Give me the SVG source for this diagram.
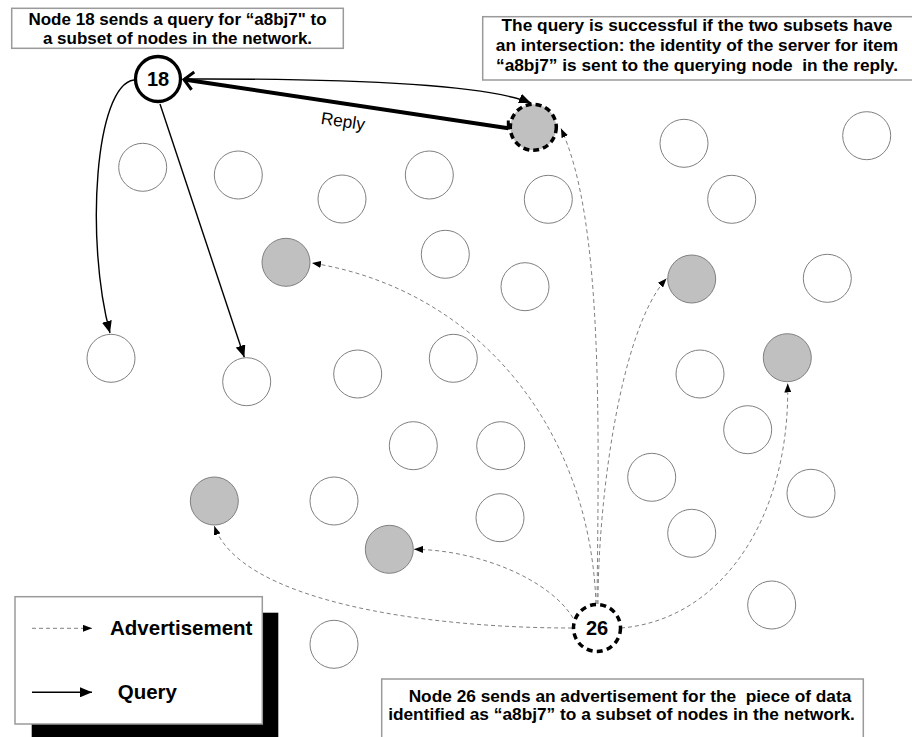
<svg xmlns="http://www.w3.org/2000/svg" width="912" height="737" viewBox="0 0 912 737">
  <defs>
    <style>
      .n{fill:#fff;stroke:#808080;stroke-width:1}
      .g{fill:#c0c0c0;stroke:#808080;stroke-width:1}
      .key{fill:#c0c0c0;stroke:#000;stroke-width:3.5;stroke-dasharray:6 4}
      .box{fill:#fff;stroke:#9a9a9a;stroke-width:1.5}
      .t{font-family:"Liberation Sans",Arial,Helvetica,sans-serif;font-weight:bold;font-size:17.3px;fill:#000;text-anchor:middle;white-space:pre}
      .lbl{font-family:"Liberation Sans",Arial,Helvetica,sans-serif;font-weight:bold;font-size:20px;fill:#000;text-anchor:middle}
      .leg{font-family:"Liberation Sans",Arial,Helvetica,sans-serif;font-weight:bold;font-size:20.5px;fill:#000}
      .q{fill:none;stroke:#000;stroke-width:1.4}
      .ad{fill:none;stroke:#808080;stroke-width:1;stroke-dasharray:4 3}
    </style>
    <marker id="qa" markerUnits="userSpaceOnUse" viewBox="0 0 12 10" markerWidth="12" markerHeight="10" refX="12" refY="5" orient="auto">
      <path d="M0,0 L12,5 L0,10 Z" fill="#000"/>
    </marker>
    <marker id="aa" markerUnits="userSpaceOnUse" viewBox="0 0 9 7" markerWidth="9" markerHeight="7" refX="9" refY="3.5" orient="auto">
      <path d="M0,0 L9,3.5 L0,7 Z" fill="#000"/>
    </marker>
    <marker id="ra" markerUnits="userSpaceOnUse" viewBox="-13 -12 16 24" markerWidth="16" markerHeight="24" refX="0" refY="0" orient="auto" overflow="visible">
      <path d="M-9,-9 L0,0 L-9,9" fill="none" stroke="#000" stroke-width="3"/>
    </marker>
  </defs>

  <rect width="912" height="737" fill="#fff"/>

  <!-- explanatory boxes -->
  <g id="note-query">
    <rect class="box" x="11.7" y="8.3" width="331.6" height="40"/>
    <text class="t" x="177.5" y="24.8" style="font-size:17px">Node 18 sends a query for “a8bj7" to</text>
    <text class="t" x="177.5" y="44.2" style="font-size:17px">a subset of nodes in the network.</text>
  </g>
  <g id="note-reply">
    <rect class="box" x="482.7" y="16.7" width="440" height="63.3"/>
    <text class="t" x="697" y="31">The query is successful if the two subsets have</text>
    <text class="t" x="697" y="51">an intersection: the identity of the server for item</text>
    <text class="t" x="697" y="71" xml:space="preserve">“a8bj7” is sent to the querying node  in the reply.</text>
  </g>
  <g id="note-advert">
    <rect class="box" x="381.7" y="679" width="481.6" height="70"/>
    <text class="t" x="630" y="702" xml:space="preserve">Node 26 sends an advertisement for the  piece of data</text>
    <text class="t" x="621.5" y="720">identified as “a8bj7” to a subset of nodes in the network.</text>
  </g>

  <!-- legend with drop shadow -->
  <g id="legend">
    <rect x="31.7" y="612.7" width="246.6" height="130" fill="#000"/>
    <rect class="box" x="15" y="596.7" width="247.3" height="127.3"/>
    <path class="ad" d="M32,628.3 L92,628.3" marker-end="url(#aa)"/>
    <path class="q" d="M32,692.3 L92,692.3" marker-end="url(#qa)"/>
    <text class="leg" x="110" y="635">Advertisement</text>
    <text class="leg" x="117.7" y="699">Query</text>
  </g>

  <!-- connectors -->
  <g id="connectors">
    <!-- queries from node 18 -->
    <path class="q" d="M134,80 C95,85 85,240 110,333"  marker-end="url(#qa)"/>
    <path class="q" d="M160,104 L244.3,357.3" marker-end="url(#qa)"/>
    <path class="q" d="M184,79 Q470,78 531,103" marker-end="url(#qa)"/>
    <!-- reply back to node 18 -->
    <path d="M508.3,128.3 L184,79.5" fill="none" stroke="#000" stroke-width="4" marker-end="url(#ra)"/>
    <path d="M508.3,129.5 L508.3,120.5" fill="none" stroke="#000" stroke-width="3"/>
    <text font-family="'Liberation Sans',Arial,Helvetica,sans-serif" font-size="17.3" text-anchor="middle" transform="translate(343,121) rotate(8.5)" x="0" y="6">Reply</text>
    <!-- advertisements from node 26 -->
    <path class="ad" d="M597,604 C599,420 603,220 561,128.5" marker-end="url(#aa)"/>
    <path class="ad" d="M598,604 C598,500 620,330 666.5,278.5" marker-end="url(#aa)"/>
    <path class="ad" d="M621,628 C720,620 790,520 787.7,383.5" marker-end="url(#aa)"/>
    <path class="ad" d="M596,604 C590,430 480,290 312,263" marker-end="url(#aa)"/>
    <path class="ad" d="M573,618 C550,580 480,550 414,549.3" marker-end="url(#aa)"/>
    <path class="ad" d="M572,628 C420,628 240,600 214.3,526" marker-end="url(#aa)"/>
  </g>

  <!-- network nodes -->
  <g id="nodes">
    <g id="n-a"><circle class="n" cx="142.7" cy="167.3" r="24"/></g>
    <g id="n-b"><circle class="n" cx="238.3" cy="175" r="24"/></g>
    <g id="n-c"><circle class="n" cx="342" cy="199" r="24"/></g>
    <g id="n-d"><circle class="n" cx="429.3" cy="175" r="24"/></g>
    <g id="n-e"><circle class="n" cx="445.3" cy="254.3" r="24"/></g>
    <g id="n-f"><circle class="n" cx="548.3" cy="199.3" r="24"/></g>
    <g id="n-g"><circle class="n" cx="684" cy="143.3" r="24"/></g>
    <g id="n-h"><circle class="n" cx="731.7" cy="199.3" r="24"/></g>
    <g id="n-i"><circle class="n" cx="866.7" cy="135.7" r="24"/></g>
    <g id="n-j"><circle class="n" cx="525" cy="286.7" r="24"/></g>
    <g id="n-k"><circle class="n" cx="827.3" cy="278.3" r="24"/></g>
    <g id="n-l"><circle class="n" cx="111" cy="358.3" r="24"/></g>
    <g id="n-m"><circle class="n" cx="246.7" cy="381.7" r="24"/></g>
    <g id="n-n"><circle class="n" cx="357.7" cy="374" r="24"/></g>
    <g id="n-o"><circle class="n" cx="453.3" cy="358.3" r="24"/></g>
    <g id="n-p"><circle class="n" cx="413.3" cy="445.7" r="24"/></g>
    <g id="n-q"><circle class="n" cx="500.7" cy="445.7" r="24"/></g>
    <g id="n-r"><circle class="n" cx="334" cy="501" r="24"/></g>
    <g id="n-s"><circle class="n" cx="500" cy="517.7" r="24"/></g>
    <g id="n-t"><circle class="n" cx="700" cy="374" r="24"/></g>
    <g id="n-u"><circle class="n" cx="747.7" cy="429.7" r="24"/></g>
    <g id="n-v"><circle class="n" cx="651.7" cy="477.3" r="24"/></g>
    <g id="n-w"><circle class="n" cx="811" cy="493.3" r="24"/></g>
    <g id="n-x"><circle class="n" cx="691.7" cy="533.3" r="24"/></g>
    <g id="n-y"><circle class="n" cx="771.7" cy="605" r="24"/></g>
    <g id="n-z"><circle class="n" cx="334" cy="644.3" r="24"/></g>

    <!-- nodes that stored the advertisement -->
    <g id="adv-1"><circle class="g" cx="286" cy="262.3" r="24"/></g>
    <g id="adv-2"><circle class="g" cx="691.7" cy="279" r="24"/></g>
    <g id="adv-3"><circle class="g" cx="787.3" cy="357.7" r="24"/></g>
    <g id="adv-4"><circle class="g" cx="214.3" cy="501" r="24"/></g>
    <g id="adv-5"><circle class="g" cx="389.3" cy="549.3" r="24"/></g>
    <!-- node in both subsets -->
    <g id="match"><circle class="key" cx="533.3" cy="127.3" r="23"/></g>

    <g id="node-18">
      <circle cx="158" cy="79" r="22.5" fill="#fff" stroke="#000" stroke-width="3.3"/>
      <text class="lbl" x="158" y="86">18</text>
    </g>
    <g id="node-26">
      <circle cx="597" cy="628" r="23.5" fill="#fff" stroke="#000" stroke-width="3.5" stroke-dasharray="6 4.3"/>
      <text class="lbl" x="597" y="635">26</text>
    </g>
  </g>
</svg>
